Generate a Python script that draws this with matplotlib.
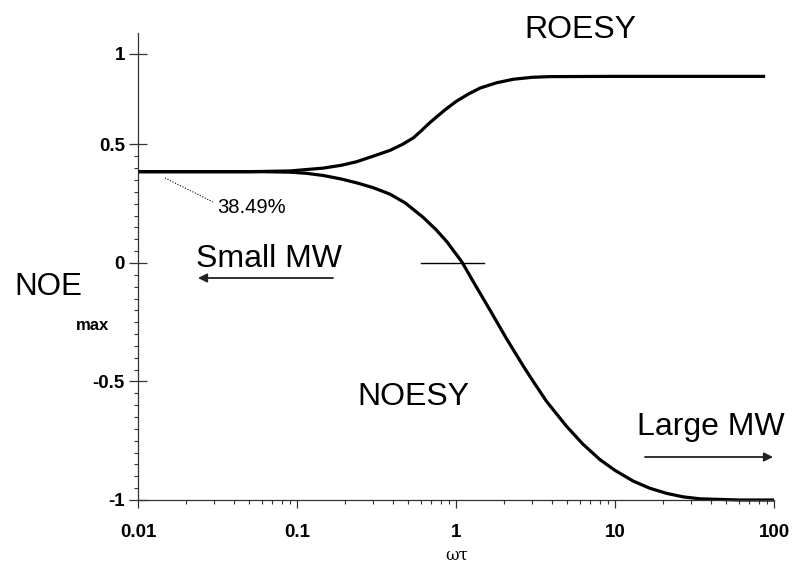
import matplotlib
matplotlib.use("Agg")
import matplotlib.pyplot as plt
from matplotlib.ticker import FixedLocator, LogLocator, NullFormatter
import numpy as np

plt.rcParams['font.family'] = ['Liberation Sans', 'DejaVu Sans']

# ---- data ----
noesy_x = [0.01, 0.03, 0.06, 0.09, 0.115, 0.146, 0.19, 0.237, 0.3, 0.385, 0.48, 0.622,
           0.75, 0.875, 1.09, 1.3, 1.64, 2.08, 2.65, 3.06, 3.72, 4.97, 6.3, 8.05,
           10.0, 13.0, 16.5, 21.1, 27.0, 34.3, 60.0, 100.0]
noesy_y = [0.385, 0.385, 0.385, 0.383, 0.378, 0.369, 0.354, 0.338, 0.318, 0.290, 0.253, 0.192,
           0.140, 0.090, 0.004, -0.085, -0.200, -0.320, -0.435, -0.500, -0.585, -0.690, -0.765, -0.830,
           -0.875, -0.920, -0.950, -0.972, -0.987, -0.995, -1.0, -1.0]

roesy_x = [0.01, 0.05, 0.09, 0.146, 0.19, 0.237, 0.3, 0.385, 0.46, 0.54, 0.61, 0.685,
           0.85, 1.0, 1.2, 1.42, 1.8, 2.3, 3.0, 3.88, 10.0, 30.0, 88.0]
roesy_y = [0.385, 0.385, 0.388, 0.400, 0.412, 0.427, 0.450, 0.475, 0.500, 0.528, 0.560, 0.592,
           0.645, 0.681, 0.713, 0.738, 0.760, 0.775, 0.783, 0.786, 0.787, 0.787, 0.787]

xtick_values = [0.01, 0.1, 1, 10, 100]
xtick_labels = ['0.01', '0.1', '1', '10', '100']
ytick_values = [-1, -0.5, 0, 0.5, 0.882]
ytick_labels = ['-1', '-0.5', '0', '0.5', '1']
zero_mark_x = [0.6, 1.5]
zero_mark_y = [0.0, 0.0]

W, H = 795, 563
fig = plt.figure(figsize=(W / 100, H / 100), dpi=100)

def fx(px):
    return px / W

def fy(py):
    return 1 - py / H

ax = fig.add_axes([fx(138), fy(500), fx(774) - fx(138), fy(33) - fy(500)])
ax.set_xscale('log')
ax.set_xlim(0.01, 100)
ax.set_ylim(-1.0, 0.97)

ax.plot(noesy_x, noesy_y, color='black', lw=2.3, solid_capstyle='butt',
        solid_joinstyle='round', clip_on=False)
ax.plot(roesy_x, roesy_y, color='black', lw=2.3, solid_capstyle='butt',
        solid_joinstyle='round', clip_on=False)
ax.plot(zero_mark_x, zero_mark_y, color='black', lw=1.0)

for s in ['top', 'right']:
    ax.spines[s].set_visible(False)
for s in ['left', 'bottom']:
    ax.spines[s].set_color('#333333')
    ax.spines[s].set_linewidth(0.9)

ax.set_xticks(xtick_values)
ax.set_xticklabels(xtick_labels)
ax.xaxis.set_minor_locator(LogLocator(base=10, subs=np.arange(2, 10)))
ax.xaxis.set_minor_formatter(NullFormatter())
ax.tick_params(axis='x', which='major', direction='out', length=6, width=0.9,
               pad=11, labelsize=13.5, color='#333333')
ax.tick_params(axis='x', which='minor', direction='out', length=3, width=0.8, color='#333333')

ax.set_yticks(ytick_values)
ax.set_yticklabels(ytick_labels)
minor_y = [v for v in np.round(np.arange(-0.95, 0.5, 0.05), 2) if abs(v * 2 - round(v * 2)) > 1e-6]
ax.yaxis.set_minor_locator(FixedLocator(minor_y))
ax.tick_params(axis='y', which='major', direction='inout', length=13, width=0.9,
               pad=3, labelsize=13.5, color='#333333')
ax.tick_params(axis='y', which='minor', direction='out', length=3, width=0.8, color='#333333')
for lab in ax.get_xticklabels() + ax.get_yticklabels():
    lab.set_fontweight('bold')

# ---- text annotations ----
fig.text(fx(580), fy(38), 'ROESY', ha='center', va='baseline', fontsize=23)
fig.text(fx(413), fy(405), 'NOESY', ha='center', va='baseline', fontsize=23)
fig.text(fx(196), fy(267), 'Small MW', ha='left', va='baseline', fontsize=23)
fig.text(fx(637), fy(435), 'Large MW', ha='left', va='baseline', fontsize=23)
fig.text(fx(14), fy(295), 'NOE', ha='left', va='baseline', fontsize=22.5)
fig.text(fx(76), fy(330), 'max', ha='left', va='baseline', fontsize=12, fontweight='bold')
fig.text(fx(217), fy(213), '38.49%', ha='left', va='baseline', fontsize=14.5)
fig.text(fx(457), fy(547), 'ωτ', ha='center', va='top', fontsize=12,
         family=['DejaVu Serif'])

# dotted leader line for 38.49%
fig.add_artist(plt.Line2D([fx(165), fx(213)], [fy(178), fy(202)], color='black',
                          lw=0.8, linestyle=(0, (1, 1.5)), transform=fig.transFigure))

# arrows
ax.annotate('', xy=(fx(198), fy(278)), xytext=(fx(333), fy(278)),
            xycoords='figure fraction', textcoords='figure fraction',
            arrowprops=dict(arrowstyle='-|>', lw=1.3, color='#222222', mutation_scale=13,
                            shrinkA=0, shrinkB=0))
ax.annotate('', xy=(fx(773), fy(457)), xytext=(fx(645), fy(457)),
            xycoords='figure fraction', textcoords='figure fraction',
            arrowprops=dict(arrowstyle='-|>', lw=1.3, color='#222222', mutation_scale=13,
                            shrinkA=0, shrinkB=0))

fig.savefig('out.png', dpi=100)
